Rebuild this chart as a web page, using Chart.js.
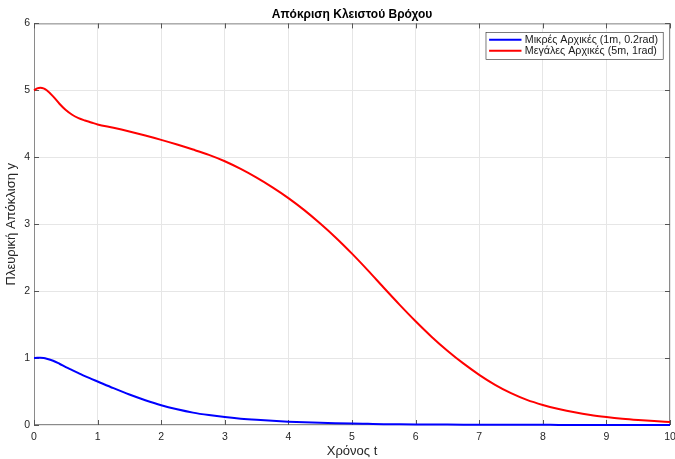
<!DOCTYPE html>
<html>
<head>
<meta charset="utf-8">
<script src="https://cdn.jsdelivr.net/npm/chart.js@4"></script>
<style>
html,body{margin:0;padding:0;background:#fff;}
#wrap{width:675px;height:459px;position:relative;}
</style>
</head>
<body>
<div id="wrap"><canvas id="c" width="675" height="459"></canvas></div>
<script>
const chartTitle = "Απόκριση Κλειστού Βρόχου";
const xAxisTitle = "Χρόνος t";
const yAxisTitle = "Πλευρική Απόκλιση y";
const seriesNames = ["Μικρές Αρχικές (1m, 0.2rad)", "Μεγάλες Αρχικές (5m, 1rad)"];
const xTickLabels = ["0","1","2","3","4","5","6","7","8","9","10"];
const yTickLabels = ["0","1","2","3","4","5","6"];

const timeValues = [0,0.05,0.1,0.15,0.2,0.3,0.4,0.5,0.6,0.7,0.8,0.9,
  1.0,1.25,1.5,1.75,2.0,2.25,2.5,2.75,3.0,3.25,3.5,3.75,4.0,4.25,4.5,4.75,
  5.0,5.25,5.5,5.75,6.0,6.25,6.5,6.75,7.0,7.25,7.5,7.75,8.0,8.25,8.5,8.75,
  9.0,9.25,9.5,9.75,10.0];

const smallInit = [1.000,1.003,1.004,1.000,0.990,0.960,0.915,0.865,0.820,0.775,0.730,0.690,
  0.650,0.550,0.455,0.370,0.295,0.235,0.185,0.148,0.118,0.095,0.077,0.062,0.050,0.040,0.032,0.026,
  0.021,0.017,0.013,0.011,0.009,0.007,0.006,0.005,0.004,0.0035,0.003,0.0025,0.002,0.0018,0.0015,0.0012,
  0.001,0.0009,0.0008,0.0006,0.0005];

const largeInit = [5.00,5.03,5.04,5.03,5.00,4.91,4.80,4.705,4.635,4.585,4.55,4.52,
  4.49,4.44,4.385,4.325,4.26,4.19,4.115,4.035,3.94,3.825,3.695,3.55,3.39,3.21,3.01,2.795,
  2.56,2.31,2.05,1.795,1.55,1.32,1.11,0.92,0.75,0.60,0.475,0.375,0.30,0.24,0.19,0.15,
  0.12,0.095,0.075,0.058,0.045];

const FONT = "'Liberation Sans', Arial, Helvetica, sans-serif";

const toPoints = (ys) => timeValues.map((t, i) => ({x: t, y: ys[i]}));

const boxPlugin = {
  id: 'matlabBox',
  beforeDatasetsDraw(chart) {
    const {ctx, chartArea: a, scales} = chart;
    ctx.save();
    ctx.strokeStyle = '#8a8a8a';
    ctx.lineWidth = 1;
    ctx.strokeRect(a.left + 0.5, a.top + 0.5, a.right - a.left - 1, a.bottom - a.top - 1);
    ctx.strokeStyle = '#555';
    const tl = 5;
    ctx.beginPath();
    scales.x.ticks.forEach(tk => {
      const px = Math.round(scales.x.getPixelForValue(tk.value)) + 0.5;
      ctx.moveTo(px, a.bottom); ctx.lineTo(px, a.bottom - tl);
      ctx.moveTo(px, a.top); ctx.lineTo(px, a.top + tl);
    });
    scales.y.ticks.forEach(tk => {
      const py = Math.round(scales.y.getPixelForValue(tk.value)) + 0.5;
      ctx.moveTo(a.left, py); ctx.lineTo(a.left + tl, py);
      ctx.moveTo(a.right, py); ctx.lineTo(a.right - tl, py);
    });
    ctx.stroke();
    ctx.restore();
  },
  afterDraw(chart) {
    const {ctx, chartArea: a} = chart;
    const ds = chart.data.datasets;
    ctx.save();
    ctx.font = "10.7px " + FONT;
    const rowH = 11;
    const lineStart = 3.6, lineLen = 32.4, textGap = 3.3;
    let maxW = 0;
    ds.forEach(d => { maxW = Math.max(maxW, ctx.measureText(d.label).width); });
    const boxW = lineStart + lineLen + textGap + maxW + 4.7;
    const boxH = 27;
    const bx = a.right - 7.3 - boxW;
    const by = a.top + 8.6;
    ctx.fillStyle = '#fff';
    ctx.fillRect(bx, by, boxW, boxH);
    ctx.strokeStyle = '#262626';
    ctx.lineWidth = 0.6;
    ctx.strokeRect(bx + 0.5, by + 0.5, boxW, boxH);
    ds.forEach((d, i) => {
      const cy = by + 7.7 + rowH * i;
      ctx.strokeStyle = d.borderColor;
      ctx.lineWidth = 2;
      ctx.beginPath();
      ctx.moveTo(bx + lineStart, cy); ctx.lineTo(bx + lineStart + lineLen, cy);
      ctx.stroke();
      ctx.fillStyle = '#1a1a1a';
      ctx.textBaseline = 'middle';
      ctx.textAlign = 'left';
      ctx.fillText(d.label, bx + lineStart + lineLen + textGap, cy + 0.5);
    });
    ctx.restore();
  }
};

new Chart(document.getElementById('c'), {
  type: 'line',
  data: {
    datasets: [
      {label: seriesNames[0], data: toPoints(smallInit), borderColor: '#0000ff', backgroundColor: '#0000ff',
       borderWidth: 2, pointRadius: 0, cubicInterpolationMode: 'monotone', fill: false, clip: 3},
      {label: seriesNames[1], data: toPoints(largeInit), borderColor: '#ff0000', backgroundColor: '#ff0000',
       borderWidth: 2, pointRadius: 0, cubicInterpolationMode: 'monotone', fill: false, clip: 3}
    ]
  },
  options: {
    responsive: false,
    animation: false,
    devicePixelRatio: 1,
    layout: {padding: {left: 0, right: 5, top: 0, bottom: 0}},
    plugins: {
      legend: {display: false},
      tooltip: {enabled: false},
      title: {
        display: true, text: chartTitle, fullSize: false,
        color: '#000',
        font: {family: FONT, size: 12, weight: 'bold'},
        padding: {top: 7, bottom: 2}
      }
    },
    scales: {
      x: {
        type: 'linear', min: 0, max: 10,
        afterFit(s) { s.height = 34; s.paddingLeft = 0; s.paddingRight = 0; },
        ticks: {
          stepSize: 1, maxRotation: 0, autoSkip: false, padding: 6,
          color: '#262626', font: {family: FONT, size: 10.5},
          callback: (v) => xTickLabels[Math.round(v)] ?? ''
        },
        grid: {color: '#e6e6e6', drawTicks: false},
        border: {display: false},
        title: {display: true, text: xAxisTitle, color: '#262626',
                font: {family: FONT, size: 13}, padding: {top: 0, bottom: 0}}
      },
      y: {
        type: 'linear', min: 0, max: 6,
        afterFit(s) { s.width = 34; s.paddingTop = 0; s.paddingBottom = 0; },
        ticks: {
          stepSize: 1, padding: 4, autoSkip: false,
          color: '#262626', font: {family: FONT, size: 10.5},
          callback: (v) => yTickLabels[Math.round(v)] ?? ''
        },
        grid: {color: '#e6e6e6', drawTicks: false},
        border: {display: false},
        title: {display: true, text: yAxisTitle, color: '#262626',
                font: {family: FONT, size: 13}, padding: {top: 4, bottom: 0}}
      }
    }
  },
  plugins: [boxPlugin]
});
</script>
</body>
</html>
